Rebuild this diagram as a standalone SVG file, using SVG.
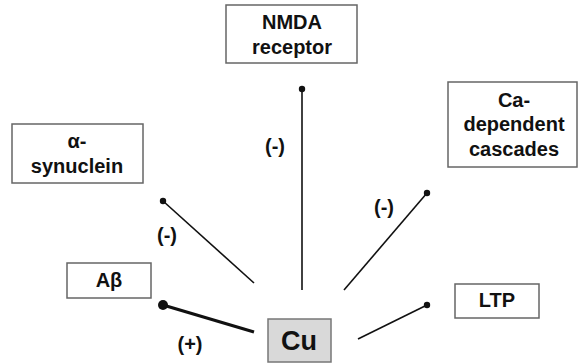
<svg xmlns="http://www.w3.org/2000/svg" width="579" height="364" viewBox="0 0 579 364">
<style>
.box{fill:#fff;stroke:#666;stroke-width:1.5}
.cu{fill:#d9d9d9;stroke:#777;stroke-width:1.5}
.t{font-family:"Liberation Sans",Arial,sans-serif;font-weight:bold;font-size:20px;fill:#111;text-anchor:middle}
.ln{stroke:#111;stroke-width:1.6;fill:none}
.dot{fill:#111}
</style>
<rect width="579" height="364" fill="#fff"/>
<g id="connectors">
<line class="ln" x1="302" y1="89" x2="302" y2="290"/>
<circle class="dot" cx="302" cy="89" r="3.2"/>
<line class="ln" x1="163" y1="201" x2="254" y2="283"/>
<circle class="dot" cx="163" cy="201" r="3.2"/>
<line class="ln" x1="427" y1="193" x2="344" y2="290"/>
<circle class="dot" cx="427" cy="193" r="3.2"/>
<line class="ln" x1="427" y1="305" x2="358" y2="339"/>
<circle class="dot" cx="427" cy="305" r="3.2"/>
<line class="ln" style="stroke-width:3.2" x1="163" y1="305" x2="254" y2="332"/>
<circle class="dot" cx="163" cy="305" r="5"/>
<text class="t" x="275" y="153">(-)</text>
<text class="t" x="167" y="242">(-)</text>
<text class="t" x="384" y="214">(-)</text>
<text class="t" x="190" y="351">(+)</text>
</g>
<g id="nmda">
<rect class="box" x="226" y="5" width="131" height="58"/>
<text class="t" x="292" y="29">NMDA</text>
<text class="t" x="292" y="54">receptor</text>
</g>
<g id="asyn">
<rect class="box" x="12" y="124" width="131" height="59"/>
<text class="t" x="77" y="148">α-</text>
<text class="t" x="77" y="173">synuclein</text>
</g>
<g id="ca">
<rect class="box" x="448" y="82" width="129" height="85"/>
<text class="t" x="514" y="107">Ca-</text>
<text class="t" x="514" y="131">dependent</text>
<text class="t" x="514" y="156">cascades</text>
</g>
<g id="abeta">
<rect class="box" x="67" y="263" width="84" height="35"/>
<text class="t" x="109" y="287">Aβ</text>
</g>
<g id="ltp">
<rect class="box" x="455" y="284" width="84" height="34"/>
<text class="t" x="497" y="307">LTP</text>
</g>
<g id="cu">
<rect class="cu" x="268" y="319" width="63" height="43"/>
<text class="t" style="font-size:27px" x="299" y="350">Cu</text>
</g>
</svg>
